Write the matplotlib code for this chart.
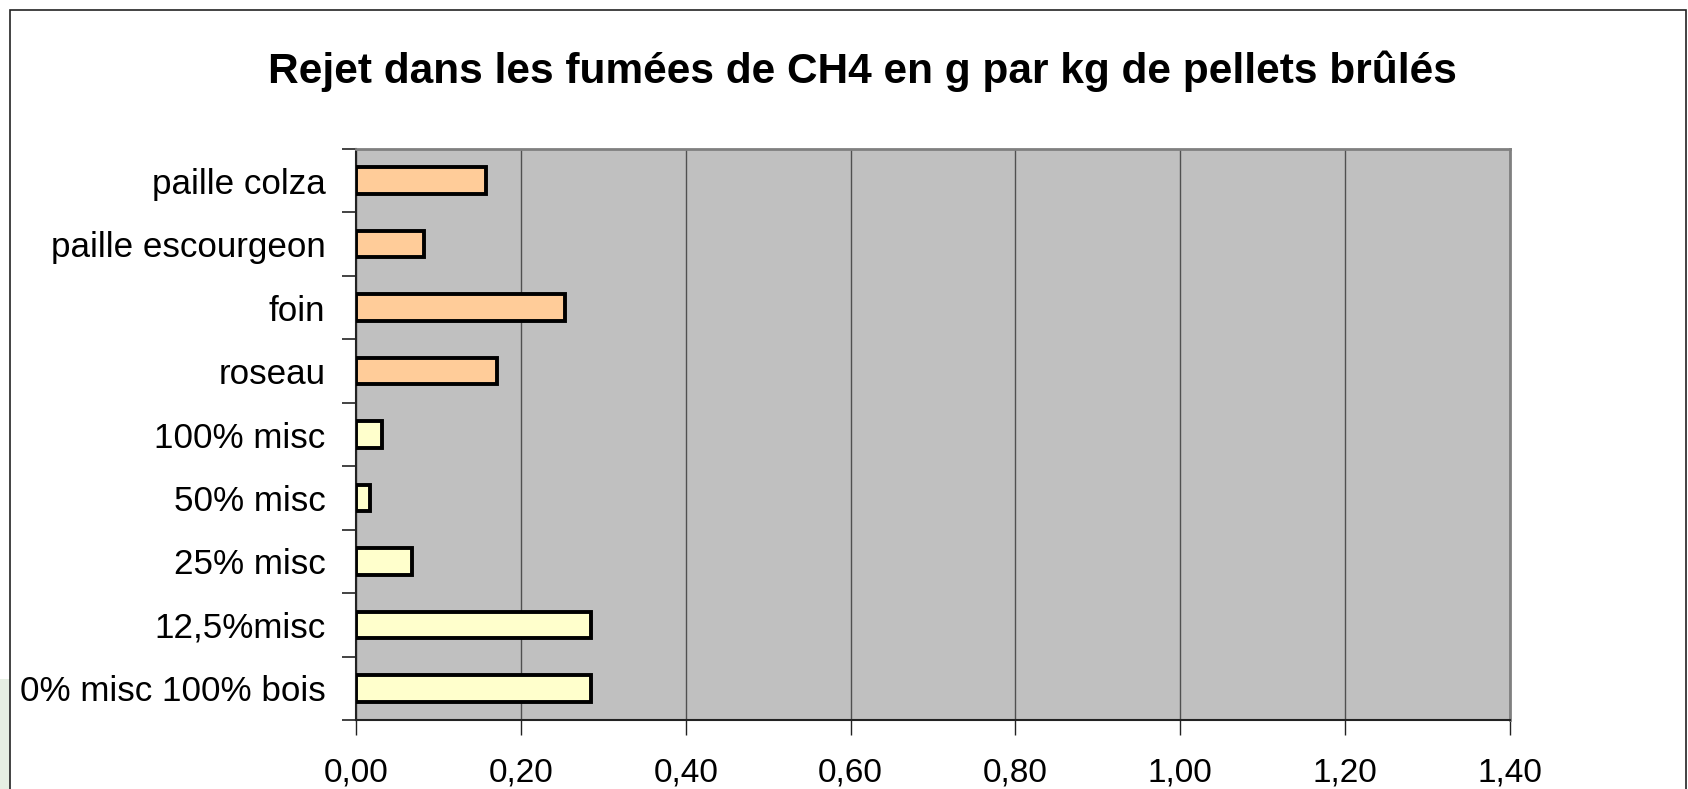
import matplotlib
matplotlib.use("Agg")
import matplotlib.pyplot as plt
from matplotlib.patches import Rectangle
from matplotlib.ticker import FuncFormatter

plt.rcParams['font.family'] = ['Liberation Sans', 'DejaVu Sans']

categories = ["0% misc 100% bois", "12,5%misc", "25% misc", "50% misc", "100% misc",
              "roseau", "foin", "paille escourgeon", "paille colza"]
values = [0.285, 0.285, 0.068, 0.017, 0.031, 0.171, 0.254, 0.082, 0.158]
bar_colors = ["#FFFFCC"] * 5 + ["#FFCC99"] * 4
x_ticks = [0.0, 0.2, 0.4, 0.6, 0.8, 1.0, 1.2, 1.4]
title = "Rejet dans les fumées de CH4 en g par kg de pellets brûlés"

W, H = 1688, 789
fig = plt.figure(figsize=(W / 100, H / 100), dpi=100)
fig.patch.set_facecolor("white")

# light green strip at lower left & outer border
fig.patches.append(Rectangle((0, 0), 10 / W, 110 / H, transform=fig.transFigure,
                             facecolor="#E6EFE3", edgecolor="none", zorder=0))
fig.patches.append(Rectangle((10 / W, -0.05), 1676 / W, (H - 10) / H + 0.05,
                             transform=fig.transFigure, facecolor="none",
                             edgecolor="#222222", linewidth=1.2, zorder=1))

left, right, top, bottom = 356, 1510, 149, 720
ax = fig.add_axes([left / W, 1 - bottom / H, (right - left) / W, (bottom - top) / H])
ax.set_facecolor("#C0C0C0")

y = list(range(len(categories)))
ax.barh(y, values, height=0.42, color=bar_colors, edgecolor="black", linewidth=2.8, zorder=3)

ax.set_xlim(0, 1.4)
ax.set_ylim(-0.5, len(categories) - 0.5)
ax.set_xticks(x_ticks)
ax.xaxis.set_major_formatter(FuncFormatter(lambda v, p: f"{v:.2f}".replace(".", ",")))
ax.set_yticks(y)
ax.set_yticklabels(categories)
ax.set_yticks([i - 0.5 for i in range(len(categories) + 1)], minor=True)
ax.tick_params(axis="y", which="major", length=0, pad=22, labelsize=25.2)
ax.tick_params(axis="y", which="minor", length=10, width=1.2, color="#222222", direction="out")
ax.tick_params(axis="x", length=11, width=1.0, color="#222222", direction="out", pad=16, labelsize=24)

ax.grid(axis="x", color="#505050", linewidth=1.0, zorder=1)
ax.set_axisbelow(True)

for s in ["top", "right"]:
    ax.spines[s].set_color("#808080")
    ax.spines[s].set_linewidth(2.0)
for s in ["left", "bottom"]:
    ax.spines[s].set_color("#222222")
    ax.spines[s].set_linewidth(1.5)

fig.text(862 / W, 1 - 71 / H, title, ha="center", va="center",
         fontsize=30.5, fontweight="bold")

fig.savefig("out.png", dpi=100)
